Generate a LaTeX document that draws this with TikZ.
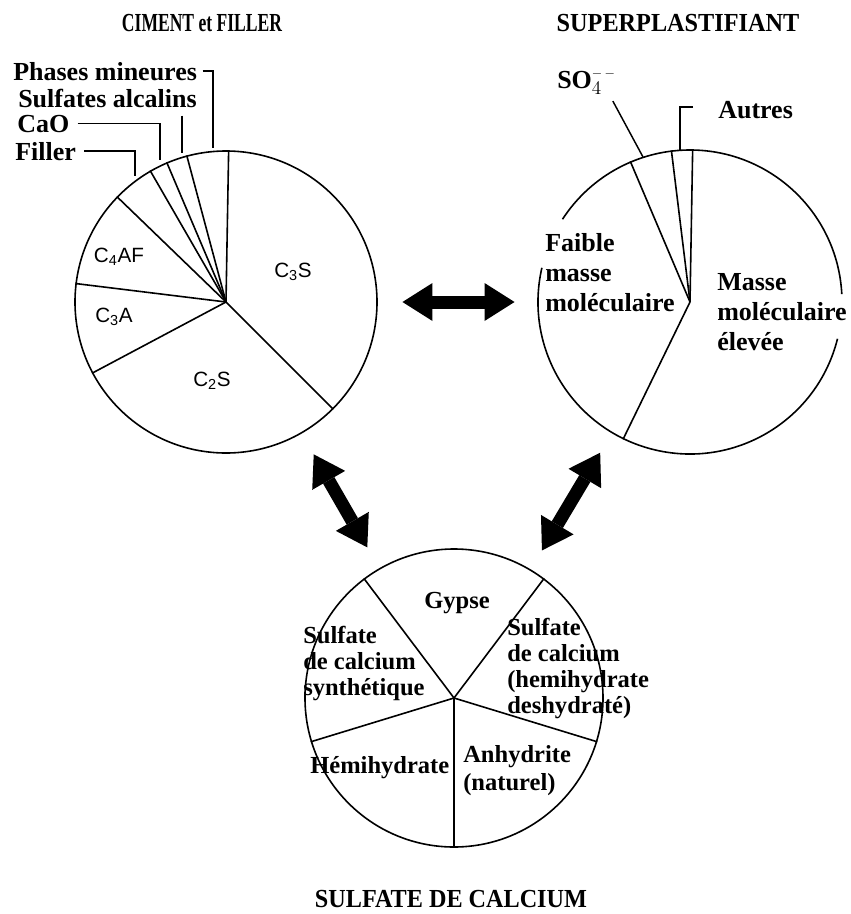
\documentclass[tikz,border=0pt]{standalone}
\usepackage{fontspec}
\setmainfont{Liberation Serif}
\setsansfont{Liberation Sans}
\usepackage{graphicx}
\usetikzlibrary{arrows.meta}

% squeeze a title to a given width
\newcommand{\titre}[2]{\resizebox{#1}{\height}{#2}}

\begin{document}
\begin{tikzpicture}[x=0.75pt, y=0.75pt,
    pie/.style={circle, draw, line width=1.2pt, inner sep=0pt},
    slice/.style={line width=1.2pt},
    lead/.style={line width=1.1pt},
    lab/.style={font=\bfseries\fontsize{19.5pt}{22.5pt}\selectfont, inner sep=0pt},
    bot/.style={font=\bfseries\fontsize{18.4pt}{19.5pt}\selectfont},
    comp/.style={font=\sffamily\fontsize{15.5pt}{18pt}\selectfont, anchor=base, inner sep=0pt},
    hdr/.style={font=\bfseries\fontsize{19.5pt}{22pt}\selectfont, anchor=base, inner sep=0pt},
    bigarrow/.style={line width=9.75pt,
      {Triangle[width=28.5pt,length=22.5pt,line width=0pt]}-{Triangle[width=28.5pt,length=22.5pt,line width=0pt]}}
  ]
  \useasboundingbox (0,0) rectangle (850,-914);

  % Titles
  \node[hdr] (tciment) at (202,-31) {\titre{120pt}{CIMENT et FILLER}};
  \node[hdr] (tsuper) at (678,-31) {\titre{182pt}{SUPERPLASTIFIANT}};
  \node[hdr] (tsulf) at (451,-907) {\titre{204pt}{SULFATE DE CALCIUM}};

  % The three pies
  \node[pie, minimum size=226.5pt] (ciment) at (226,-302) {};
  \node[pie, draw=none, minimum size=228pt] (superp) at (690,-302) {};
  \node[pie, minimum size=223.5pt] (sulfate) at (454,-698) {};

  % Slices
  \foreach \a in {89,105,113,120,136,173,208,315}
    \draw[slice] (ciment.center) -- (ciment.\a);
  \foreach \a in {89,97,113,244}
    \draw[slice] (superp.center) -- (superp.\a);
  \foreach \a in {53,127,197,270,343}
    \draw[slice] (sulfate.center) -- (sulfate.\a);

  % right pie outline, open behind the texts
  \draw[slice] (superp.center) ++(3:152) arc[start angle=3, end angle=147, radius=152];
  \draw[slice] (superp.center) ++(167:152) arc[start angle=167, end angle=346, radius=152];

  % Ciment components
  \node[comp] (c3s) at (293,-277) {C\textsubscript{3}S};
  \node[comp] (c2s) at (212,-386) {C\textsubscript{2}S};
  \node[comp] (c3a) at (114,-322) {C\textsubscript{3}A};
  \node[comp] (c4af) at (119,-262) {C\textsubscript{4}AF};

  % Small slices with leaders
  \node[lab, anchor=base west] (phases) at (13,-80) {Phases mineures};
  \node[lab, anchor=base west] (salc) at (18,-107) {Sulfates alcalins};
  \node[lab, anchor=base west] (cao) at (17,-132) {CaO};
  \node[lab, anchor=base west] (filler) at (15,-160) {Filler};
  \coordinate (phasesend) at (213,-148);
  \coordinate (salcend) at (182,-153);
  \coordinate (caoend) at (160,-160);
  \coordinate (fillerend) at (135,-176);
  \draw[lead] ([xshift=4pt]phases.east) -| (phasesend);
  \draw[lead] (salc.south -| salcend) ++(0,-8) -- (salcend);
  \draw[lead] ([xshift=6pt]cao.east) -| (caoend);
  \draw[lead] ([xshift=6pt]filler.east) -| (fillerend);

  % Superplastifiant
  \node[lab, anchor=base west] (so4) at (557,-88) {SO$_4^{\scriptscriptstyle -\,-}$};
  \node[lab, anchor=base west] (autres) at (718,-118) {Autres};
  \coordinate (so4end) at (643,-157);
  \coordinate (autresend) at (680,-150);
  \draw[lead] (so4.south east) ++(-3,-6) -- (so4end);
  \draw[lead] (autres.west) ++(-25,2.5) -| (autresend);
  \node[lab, anchor=north west, align=left] (faible) at (545,-233) {Faible\\masse\\moléculaire};
  \node[lab, anchor=north west, align=left] (masse) at (717,-273) {Masse\\moléculaire\\élevée};

  % Sulfate de calcium
  \node[lab, bot, anchor=base] (gypse) at (457,-608) {Gypse};
  \node[lab, bot, anchor=north west, align=left] (synth) at (303,-626) {Sulfate\\de calcium\\synthétique};
  \node[lab, bot, anchor=north west, align=left] (deshy) at (507,-618) {Sulfate\\de calcium\\(hemihydrate\\deshydraté)};
  \node[lab, bot, anchor=base west] (hemi) at (310,-773) {Hémihydrate};
  \node[lab, bot, anchor=north west, align=left, font=\bfseries\fontsize{18.4pt}{21pt}\selectfont] (anhy) at (463,-745) {Anhydrite\\(naturel)};

  % Interactions
  \draw[bigarrow, shorten <=18.5pt, shorten >=17pt] (ciment) -- (superp);
  \draw[bigarrow, shorten <=18pt, shorten >=18pt] (ciment) -- (sulfate);
  \draw[bigarrow, shorten <=17pt, shorten >=16.5pt] (superp) -- (sulfate);
\end{tikzpicture}
\end{document}
